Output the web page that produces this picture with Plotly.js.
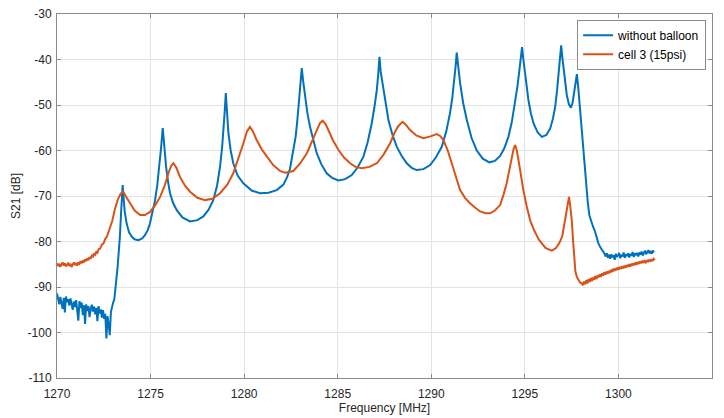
<!DOCTYPE html>
<html>
<head>
<meta charset="utf-8">
<script src="https://cdn.plot.ly/plotly-3.0.1.min.js"></script>
<style>
  html, body { margin: 0; padding: 0; background: #ffffff; }
  #chart { width: 724px; height: 418px; }
</style>
</head>
<body>
<div id="chart"></div>
<script>
// Measured transmission S21 (dB) versus frequency (MHz), [frequency, S21] pairs.
const withoutBalloon = [
  [1270.00,-91.4],[1270.06,-92.6],[1270.12,-93.8],[1270.18,-92.2],[1270.24,-93.5],[1270.30,-94.8],
  [1270.36,-92.4],[1270.42,-95.6],[1270.48,-92.1],[1270.54,-93.3],[1270.60,-92.7],[1270.66,-94.1],
  [1270.72,-92.5],[1270.78,-93.9],[1270.84,-95.0],[1270.90,-93.2],[1270.96,-94.4],[1271.02,-92.9],
  [1271.08,-95.7],[1271.14,-97.4],[1271.20,-93.1],[1271.26,-94.6],[1271.32,-93.4],[1271.38,-96.2],
  [1271.44,-94.0],[1271.50,-98.1],[1271.56,-93.8],[1271.62,-95.3],[1271.68,-94.2],[1271.74,-96.6],
  [1271.80,-94.8],[1271.86,-93.9],[1271.92,-95.4],[1271.98,-94.3],[1272.04,-96.0],[1272.10,-94.6],
  [1272.16,-97.5],[1272.22,-94.2],[1272.28,-95.8],[1272.34,-94.9],[1272.40,-96.7],[1272.46,-95.1],
  [1272.52,-97.0],[1272.58,-95.9],[1272.64,-101.3],[1272.70,-96.4],[1272.76,-98.2],[1272.82,-100.6],
  [1272.88,-95.5],[1272.94,-94.1],[1273.00,-93.4],[1273.06,-92.8],[1273.12,-91.0],[1273.18,-88.0],
  [1273.24,-85.5],[1273.30,-83.0],[1273.36,-79.0],[1273.42,-74.0],[1273.47,-69.5],[1273.51,-67.6],
  [1273.56,-70.5],[1273.62,-73.5],[1273.72,-76.0],[1273.85,-78.0],[1273.99,-78.9],[1274.15,-79.5],
  [1274.35,-79.7],[1274.55,-79.3],[1274.70,-78.6],[1274.85,-77.5],[1274.97,-76.0],[1275.10,-73.8],
  [1275.24,-70.9],[1275.36,-67.5],[1275.47,-63.6],[1275.56,-59.5],[1275.65,-55.1],[1275.72,-58.5],
  [1275.83,-63.6],[1275.94,-67.0],[1276.04,-69.4],[1276.20,-71.5],[1276.40,-73.1],[1276.70,-74.7],
  [1277.11,-75.6],[1277.50,-75.3],[1277.82,-74.5],[1278.10,-73.0],[1278.35,-70.9],[1278.55,-67.8],
  [1278.71,-63.6],[1278.82,-59.5],[1278.89,-56.2],[1278.96,-51.5],[1279.02,-47.4],[1279.09,-52.0],
  [1279.16,-56.2],[1279.28,-60.0],[1279.42,-62.8],[1279.65,-65.5],[1279.96,-67.2],[1280.40,-68.8],
  [1280.85,-69.4],[1281.30,-69.3],[1281.74,-68.7],[1282.10,-67.5],[1282.30,-65.8],[1282.45,-64.0],
  [1282.63,-60.0],[1282.75,-57.0],[1282.84,-53.5],[1282.93,-49.5],[1283.00,-45.5],[1283.08,-41.9],
  [1283.16,-45.0],[1283.25,-48.2],[1283.38,-51.8],[1283.52,-54.8],[1283.70,-58.0],[1283.88,-60.6],
  [1284.12,-63.0],[1284.41,-65.0],[1284.70,-66.0],[1285.04,-66.6],[1285.40,-66.3],[1285.75,-65.4],
  [1286.05,-63.8],[1286.37,-61.4],[1286.60,-58.2],[1286.82,-54.0],[1286.96,-50.5],[1287.09,-46.7],
  [1287.17,-43.0],[1287.23,-39.4],[1287.30,-42.8],[1287.44,-46.7],[1287.56,-50.0],[1287.71,-53.3],
  [1287.92,-56.5],[1288.16,-59.2],[1288.42,-61.2],[1288.69,-62.8],[1288.95,-63.8],[1289.22,-64.3],
  [1289.58,-64.1],[1289.94,-63.2],[1290.25,-61.5],[1290.56,-59.2],[1290.80,-55.8],[1291.00,-51.8],
  [1291.12,-48.5],[1291.22,-45.2],[1291.30,-41.5],[1291.36,-38.5],[1291.44,-41.8],[1291.54,-45.2],
  [1291.70,-49.5],[1291.90,-53.3],[1292.15,-57.2],[1292.43,-60.0],[1292.75,-61.8],[1293.10,-62.6],
  [1293.40,-62.3],[1293.68,-61.2],[1293.90,-59.5],[1294.12,-57.0],[1294.30,-53.8],[1294.48,-49.6],
  [1294.60,-46.0],[1294.71,-42.3],[1294.78,-39.8],[1294.85,-37.3],[1294.92,-40.0],[1295.01,-43.0],
  [1295.10,-46.0],[1295.19,-48.9],[1295.32,-51.8],[1295.46,-54.0],[1295.68,-56.0],[1295.91,-57.0],
  [1296.15,-56.6],[1296.35,-55.2],[1296.50,-53.0],[1296.62,-50.4],[1296.72,-46.8],[1296.79,-43.2],
  [1296.87,-39.5],[1296.94,-36.9],[1297.01,-39.8],[1297.10,-43.0],[1297.17,-45.8],[1297.24,-47.8],
  [1297.35,-49.8],[1297.46,-50.6],[1297.55,-49.5],[1297.63,-47.4],[1297.70,-45.0],[1297.78,-43.2],
  [1297.85,-46.0],[1297.92,-49.6],[1298.01,-54.5],[1298.10,-59.2],[1298.19,-63.8],[1298.27,-67.8],
  [1298.36,-71.3],[1298.45,-74.3],[1298.55,-75.8],[1298.65,-76.8],[1298.75,-77.8],[1298.85,-79.4],
  [1298.93,-80.4],[1299.05,-81.4],[1299.20,-82.2],[1299.26,-82.7],[1299.32,-83.3],[1299.38,-82.6],
  [1299.44,-83.6],[1299.50,-82.9],[1299.56,-83.8],[1299.62,-82.8],[1299.68,-83.5],[1299.74,-83.0],
  [1299.80,-84.0],[1299.86,-82.7],[1299.92,-83.4],[1299.98,-83.1],[1300.04,-82.5],[1300.10,-83.7],
  [1300.16,-82.9],[1300.22,-83.3],[1300.28,-82.4],[1300.34,-83.6],[1300.40,-82.8],[1300.46,-83.2],
  [1300.52,-82.6],[1300.58,-83.5],[1300.64,-82.7],[1300.70,-83.1],[1300.76,-82.3],[1300.82,-83.4],
  [1300.88,-82.6],[1300.94,-83.0],[1301.00,-82.5],[1301.06,-83.3],[1301.12,-82.4],[1301.18,-82.9],
  [1301.24,-82.2],[1301.30,-83.1],[1301.36,-82.5],[1301.42,-82.0],[1301.48,-82.8],[1301.54,-82.3],
  [1301.60,-81.9],[1301.66,-82.6],[1301.72,-82.1],[1301.78,-82.7],[1301.84,-82.0],[1301.90,-82.4]
];

const cell3 = [
  [1270.00,-84.8],[1270.06,-85.4],[1270.12,-84.9],[1270.18,-85.6],[1270.24,-85.0],[1270.30,-84.6],
  [1270.36,-85.3],[1270.42,-84.8],[1270.48,-85.5],[1270.54,-85.1],[1270.60,-84.7],[1270.66,-85.4],
  [1270.72,-84.9],[1270.78,-85.6],[1270.84,-85.0],[1270.90,-84.6],[1270.96,-85.2],[1271.02,-84.7],
  [1271.08,-85.3],[1271.14,-84.6],[1271.20,-84.9],[1271.26,-84.3],[1271.32,-84.8],[1271.38,-84.2],
  [1271.44,-84.6],[1271.50,-83.9],[1271.56,-84.3],[1271.62,-83.7],[1271.68,-84.1],[1271.74,-83.4],
  [1271.80,-83.8],[1271.86,-83.1],[1271.92,-83.3],[1271.98,-82.6],[1272.04,-82.9],[1272.10,-82.3],
  [1272.16,-82.5],[1272.22,-81.7],[1272.30,-81.6],[1272.40,-80.7],[1272.50,-80.3],[1272.58,-79.4],
  [1272.66,-79.0],[1272.75,-78.0],[1272.83,-77.3],[1272.95,-75.5],[1273.10,-72.8],[1273.25,-70.8],
  [1273.40,-69.5],[1273.54,-69.05],[1273.70,-70.2],[1273.90,-71.6],[1274.15,-73.2],[1274.44,-74.2],
  [1274.70,-74.2],[1274.97,-73.5],[1275.25,-72.0],[1275.51,-70.2],[1275.75,-67.8],[1275.95,-65.0],
  [1276.10,-63.4],[1276.22,-62.8],[1276.38,-63.8],[1276.57,-65.8],[1276.85,-67.8],[1277.11,-69.05],
  [1277.50,-70.4],[1277.91,-70.9],[1278.30,-70.6],[1278.71,-69.4],[1279.10,-67.5],[1279.42,-65.0],
  [1279.70,-61.8],[1279.96,-58.4],[1280.15,-55.8],[1280.31,-54.8],[1280.47,-55.8],[1280.67,-57.7],
  [1280.95,-59.8],[1281.21,-61.4],[1281.55,-63.2],[1281.92,-64.5],[1282.19,-64.9],[1282.63,-64.5],
  [1283.00,-62.8],[1283.35,-60.6],[1283.65,-57.8],[1283.88,-55.5],[1284.05,-54.0],[1284.20,-53.45],
  [1284.35,-54.2],[1284.50,-55.5],[1284.75,-57.8],[1285.04,-59.9],[1285.35,-61.6],[1285.66,-62.8],
  [1285.95,-63.6],[1286.28,-63.9],[1286.70,-63.6],[1287.09,-62.8],[1287.45,-60.9],[1287.80,-58.4],
  [1288.05,-56.0],[1288.24,-54.6],[1288.47,-53.7],[1288.65,-54.4],[1288.87,-55.5],[1289.20,-56.7],
  [1289.58,-57.3],[1289.95,-56.9],[1290.29,-56.4],[1290.47,-56.8],[1290.65,-57.7],[1290.88,-60.0],
  [1291.10,-62.8],[1291.32,-65.8],[1291.54,-68.7],[1291.80,-70.4],[1292.07,-71.6],[1292.35,-72.6],
  [1292.61,-73.4],[1292.90,-73.8],[1293.14,-73.8],[1293.40,-73.2],[1293.68,-72.0],[1293.85,-69.8],
  [1294.03,-67.2],[1294.17,-64.3],[1294.30,-61.4],[1294.40,-59.6],[1294.48,-58.8],[1294.57,-60.0],
  [1294.66,-62.1],[1294.78,-65.5],[1294.92,-68.7],[1295.10,-72.3],[1295.28,-75.3],[1295.50,-77.6],
  [1295.75,-79.6],[1296.10,-81.4],[1296.44,-82.0],[1296.65,-81.5],[1296.85,-80.3],[1297.00,-78.8],
  [1297.12,-76.0],[1297.22,-73.0],[1297.30,-71.0],[1297.36,-70.2],[1297.42,-72.0],[1297.51,-75.5],
  [1297.58,-80.0],[1297.64,-84.0],[1297.70,-86.6],[1297.78,-87.8],[1297.86,-88.5],[1297.95,-89.0],
  [1298.04,-89.2],[1298.10,-89.6],[1298.16,-88.8],[1298.22,-89.4],[1298.28,-88.5],[1298.34,-89.2],
  [1298.40,-88.3],[1298.46,-88.9],[1298.52,-88.0],[1298.58,-88.7],[1298.64,-87.9],[1298.70,-88.4],
  [1298.76,-87.6],[1298.82,-88.3],[1298.88,-87.5],[1298.94,-87.9],[1299.00,-87.2],[1299.06,-87.8],
  [1299.12,-87.0],[1299.18,-87.5],[1299.24,-86.8],[1299.30,-87.3],[1299.36,-86.6],[1299.42,-87.1],
  [1299.48,-86.5],[1299.54,-86.9],[1299.60,-86.2],[1299.66,-86.7],[1299.72,-86.0],[1299.78,-86.5],
  [1299.84,-85.9],[1299.90,-86.3],[1299.96,-85.7],[1300.02,-86.2],[1300.08,-85.6],[1300.14,-86.0],
  [1300.20,-85.4],[1300.26,-85.9],[1300.32,-85.3],[1300.38,-85.8],[1300.44,-85.2],[1300.50,-85.6],
  [1300.56,-85.0],[1300.62,-85.5],[1300.68,-84.9],[1300.74,-85.3],[1300.80,-84.8],[1300.86,-85.2],
  [1300.92,-84.6],[1300.98,-85.1],[1301.04,-84.5],[1301.10,-84.9],[1301.16,-84.4],[1301.22,-84.8],
  [1301.28,-84.2],[1301.34,-84.7],[1301.40,-84.3],[1301.46,-84.6],[1301.52,-84.1],[1301.58,-84.5],
  [1301.64,-84.0],[1301.70,-84.4],[1301.76,-83.9],[1301.82,-84.3],[1301.88,-83.8],[1301.94,-84.1]
];

const seriesNames = ['without balloon', 'cell 3 (15psi)'];
const seriesColors = ['#0072BD', '#D95319'];

const xTicks = [1270, 1275, 1280, 1285, 1290, 1295, 1300, 1305];
const yTicks = [-110, -100, -90, -80, -70, -60, -50, -40, -30];

function toTrace(pairs, name, color) {
  return {
    x: pairs.map(p => p[0]),
    y: pairs.map(p => p[1]),
    type: 'scatter',
    mode: 'lines',
    name: name,
    line: { color: color, width: 2 }
  };
}

const traces = [
  toTrace(withoutBalloon, seriesNames[0], seriesColors[0]),
  toTrace(cell3, seriesNames[1], seriesColors[1])
];

const axisCommon = {
  showline: true,
  linecolor: '#8a8a8a',
  linewidth: 1,
  mirror: 'ticks',
  ticks: 'inside',
  ticklen: 4,
  tickcolor: '#8a8a8a',
  showgrid: true,
  gridcolor: '#e4e4e4',
  gridwidth: 1,
  zeroline: false,
  tickfont: { family: 'Liberation Sans, Arial, sans-serif', size: 12, color: '#262626' }
};

const layout = {
  width: 724,
  height: 418,
  margin: { l: 57, r: 12, t: 14, b: 40 },
  paper_bgcolor: '#ffffff',
  plot_bgcolor: '#ffffff',
  font: { family: 'Liberation Sans, Arial, sans-serif', size: 12, color: '#262626' },
  xaxis: Object.assign({}, axisCommon, {
    range: [1270, 1305],
    tickvals: xTicks,
    ticktext: xTicks.map(String),
    ticklabelstandoff: 5,
    title: { text: 'Frequency [MHz]', font: { size: 12, color: '#262626' }, standoff: 2 }
  }),
  yaxis: Object.assign({}, axisCommon, {
    range: [-110, -30],
    tickvals: yTicks,
    ticktext: yTicks.map(String),
    ticklabelstandoff: 2,
    title: { text: 'S21 [dB]', font: { size: 12, color: '#262626' }, standoff: 4 }
  }),
  showlegend: true,
  legend: {
    x: 0.991, y: 0.984, xanchor: 'right', yanchor: 'top',
    bgcolor: '#ffffff',
    bordercolor: '#8a8a8a',
    borderwidth: 1,
    font: { size: 12, color: '#000000' },
    tracegroupgap: 0,
    itemwidth: 30
  }
};

Plotly.newPlot('chart', traces, layout, { displayModeBar: false, staticPlot: true });
</script>
</body>
</html>
